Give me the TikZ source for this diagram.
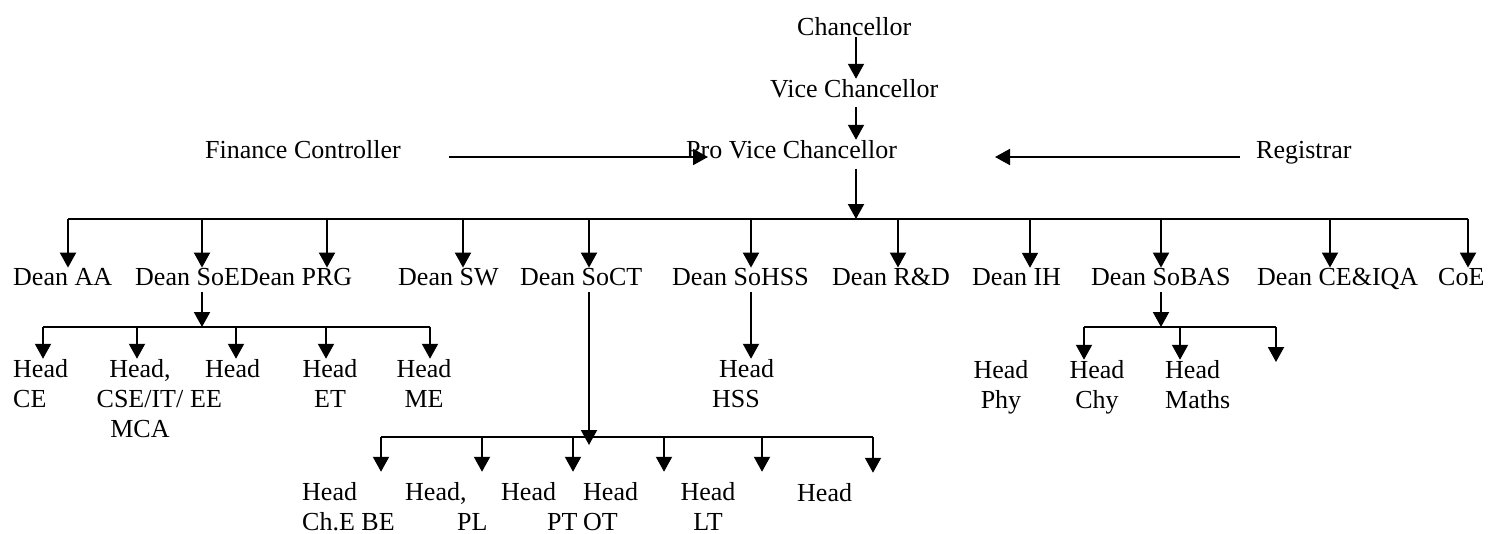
\documentclass[tikz,border=0pt]{standalone}
\usepackage{fontspec}
\setmainfont{Liberation Serif}
\usetikzlibrary{arrows.meta}
\begin{document}
\begin{tikzpicture}[x=1pt,y=-1pt,
 lbl/.style={inner sep=0pt,anchor=base west,font=\fontsize{26}{30}\selectfont},
 arr/.style={line width=2pt,-{Triangle[length=15pt,width=16pt]}},
 bus/.style={line width=2pt}]
 \useasboundingbox (0,0) rectangle (1488,533);
 % top
 \node[lbl] (chan) at (797,35) {Chancellor};
 \node[lbl] (vc) at (770,97) {Vice Chancellor};
 \node[lbl] (pvc) at (686,158) {Pro Vice Chancellor};
 \node[lbl] (fin) at (205,158) {Finance Controller};
 \node[lbl] (reg) at (1256,158) {Registrar};
 \draw[arr] ([yshift=-2pt]chan.south -| 856,0) -- (vc.north -| 856,0);
 \draw[arr] ([yshift=-9pt]vc.south -| 856,0) -- (pvc.north -| 856,0);
 \coordinate (finS) at (449,157);
 \coordinate (finT) at (708,157);
 \coordinate (regS) at (1240,157);
 \coordinate (regT) at (995,157);
 \draw[arr] (finS) -- (finT);
 \draw[arr] (regS) -- (regT);
 % deans
 \coordinate (busL) at (68,219);
 \coordinate (busR) at (1468,219);
 \draw[arr] ([yshift=-10pt]pvc.south -| 856,0) -- (busL -| 856,0);
 \draw[bus] (busL) -- (busR);
 \foreach \x/\l/\n/\t in {68/13/dAA/Dean AA,202/135/dSoE/Dean SoE,327/240/dPRG/Dean PRG,
   463/398/dSW/Dean SW,589/520/dSoCT/Dean SoCT,751/672/dSoHSS/Dean SoHSS,
   898/832/dRD/Dean R\&D,1030/972/dIH/Dean IH,1161/1091/dSoBAS/Dean SoBAS,
   1330/1257/dCE/Dean CE\&IQA,1468/1438/dCoE/CoE} {
  \node[lbl] (\n) at (\l,285) {\t};
  \draw[arr] (\x,219) -- (\n.north -| \x,0);
 }
 % SoE heads (base = last line)
 \node[lbl,align=left] (hCE) at (13,407) {Head\\CE};
 \node[lbl,align=center,anchor=base] (hCSE) at (140,437) {Head,\\CSE/IT/\\MCA};
 \node[lbl,align=left] (hEE) at (190,407) {\hspace*{15pt}Head\\EE};
 \node[lbl,align=center,anchor=base] (hET) at (330,407) {Head\\ET};
 \node[lbl,align=center,anchor=base] (hME) at (424,407) {Head\\ME};
 \draw[arr] ([yshift=-7pt]dSoE.south -| 202,0) -- (202,327);
 \draw[bus] (43,327) -- (430,327);
 \foreach \x/\n in {43/hCE,137/hCSE,236/hEE,326/hET,430/hME}
  \draw[arr] (\x,327) -- (\n.north -| \x,0);
 % SoHSS head
 \node[lbl,align=left] (hHSS) at (712,407) {\hspace*{7pt}Head\\HSS};
 \draw[arr] ([yshift=-7pt]dSoHSS.south -| 751,0) -- (hHSS.north -| 751,0);
 % SoBAS heads
 \node[lbl,align=center,anchor=base] (hPhy) at (1001,408) {Head\\Phy};
 \node[lbl,align=center,anchor=base] (hChy) at (1097,408) {Head\\Chy};
 \node[lbl,align=left] (hMaths) at (1165,408) {Head\\Maths};
 \draw[arr] ([yshift=-7pt]dSoBAS.south -| 1161,0) -- (1161,327);
 \draw[bus] (1084,327) -- (1276,327);
 \draw[arr] (1084,327) -- (hChy.north -| 1084,0);
 \draw[arr] (1180,327) -- (hMaths.north -| 1180,0);
 \coordinate (basT) at (1276,362);
 \draw[arr] (1276,327) -- (basT);
 % SoCT heads
 \node[lbl,align=left] (hChE) at (302,530) {Head\\Ch.E BE};
 \node[lbl,align=left] (hPL) at (405,530) {Head,\\\hspace*{52pt}PL};
 \node[lbl,align=left] (hPT) at (501,530) {Head\\\hspace*{46pt}PT};
 \node[lbl,align=left] (hOT) at (583,530) {Head\\OT};
 \node[lbl,align=center,anchor=base] (hLT) at (708,530) {Head\\LT};
 \node[lbl] (hX) at (797,501) {Head};
 \draw[arr] ([yshift=-7pt]dSoCT.south -| 589,0) -- (589,445);
 \draw[bus] (381,437) -- (873,437);
 \foreach \x/\n in {381/hChE,482/hPL,573/hPT,664/hOT,762/hLT,873/hX}
  \draw[arr] (\x,437) -- ([yshift=10pt]\n.north -| \x,0);
\end{tikzpicture}
\end{document}
